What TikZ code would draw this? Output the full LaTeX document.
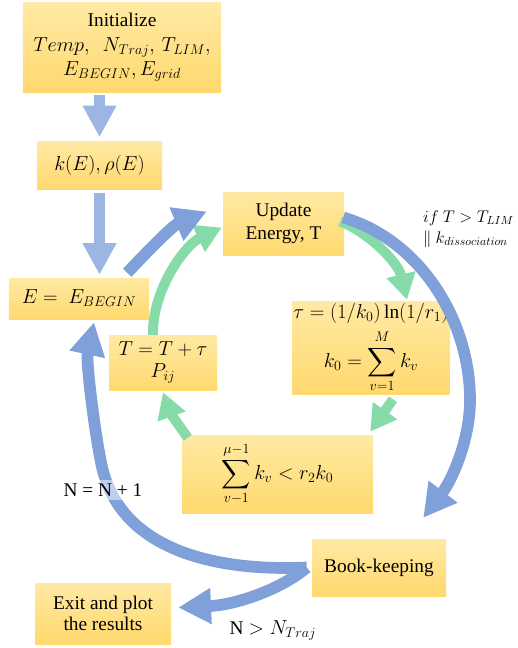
\documentclass[tikz,border=0pt]{standalone}
\usepackage{fontspec}
\setmainfont{Liberation Serif}
\usepackage{amsmath}
\usetikzlibrary{arrows.meta,calc,positioning}

\definecolor{boxtop}{RGB}{255,233,163}
\definecolor{boxbot}{RGB}{255,217,110}
\definecolor{arcblue}{RGB}{127,160,216}
\definecolor{lightblue}{RGB}{157,181,226}
\definecolor{arcgreen}{RGB}{134,219,168}

\tikzset{
  blk/.style={top color=boxtop, bottom color=boxbot, draw=none, align=center, inner sep=1pt},
  bluearr/.style={draw=arcblue, line width=10pt, -{Triangle[length=28pt,width=29pt]}},
  greenarr/.style={draw=arcgreen, line width=8.5pt, -{Triangle[length=22pt,width=24pt]}},
  downarr/.style={draw=lightblue, line width=9.5pt, -{Triangle[length=27pt,width=27pt]}},
}

\begin{document}
\begin{tikzpicture}[x=0.3mm, y=-0.3mm, font=\fontsize{16.5}{18}\selectfont]
        \useasboundingbox (0,0) rectangle (517,648);
        % Kotak-kotak
        \node[blk, minimum width=59.4mm, minimum height=26.7mm] (init) at (122,47.5) {Initialize\\[3pt] $Temp,\ \ N_{Traj},\, T_{LIM},$\\[3pt] $E_{BEGIN},E_{grid}$};
        \node[blk, minimum width=37.5mm, minimum height=14.4mm] (kE) at (99.5,165) {$k(E),\rho(E)$};
        \node[blk, minimum width=42mm, minimum height=12.3mm] (Ebeg) at (79,298.5) {$E=\ E_{BEGIN}$};
        \node[blk, minimum width=32.4mm, minimum height=16.5mm] (Tup) at (163,362.5) {$T=T+\tau$\\ $P_{ij}$};
        \node[blk, minimum width=36.3mm, minimum height=18.9mm] (upd) at (283.5,223.5) {Update\\[2pt] Energy, T};
        \node[blk, minimum width=46.8mm, minimum height=26.4mm] (tau) at (371,348) {$\tau=(1/k_0)\ln(1/r_1)$\\[5pt] $\displaystyle k_0=\sum_{v=1}^{M}k_v$};
        \node[blk, minimum width=57.3mm, minimum height=23.4mm] (sum) at (277.5,474) {$\displaystyle\sum_{v-1}^{\mu-1}k_v<r_2k_0$};
        \node[blk, minimum width=40.2mm, minimum height=17.1mm] (book) at (379,567.5) {Book-keeping};
        \node[blk, minimum width=40.8mm, minimum height=18.3mm] (exit) at (103,613.5) {Exit and plot\\ the results};
        % Panah turun
        \draw[downarr, shorten <=2pt, shorten >=3pt] (kE.north |- init.south) -- (kE.north);
        \draw[downarr, shorten <=3pt, shorten >=2.5pt] (kE.south) -- (kE.south |- Ebeg.north);
        % Siklus dalam (hijau)
        \draw[greenarr] ([shift={(-4,-2)}]upd.east) .. controls (368,232) and (398,262) .. ([shift={(36,-2)}]tau.north);
        \draw[greenarr] ([shift={(22,5)}]tau.south) -- ([shift={(-3,-3)}]sum.north east);
        \draw[greenarr] ([shift={(6,3)}]sum.north west) .. controls (182,430) and (170,412) .. ([shift={(0,2)}]Tup.south);
        \draw[greenarr] ([shift={(-10,0)}]Tup.north) .. controls (152,290) and (185,245) .. ([shift={(-1,4)}]upd.west);
        % Siklus luar (biru)
        \draw[bluearr] ([shift={(-22,-5)}]Ebeg.north east) .. controls (147,252) and (172,226) .. ([shift={(-16,-12)}]upd.west);
        \draw[bluearr] ([shift={(-1,-6)}]upd.east) .. controls (420,240) and (470,320) .. (470,400)
            .. controls (470,440) and (452,480) .. ([shift={(-23,-21)}]book.north east);
        \draw[bluearr] ([shift={(-5,0)}]book.west) .. controls (205,572) and (120,545) .. (102,467)
            .. controls (94,430) and (86,360) .. ([shift={(15,3)}]Ebeg.south);
        \draw[bluearr] ([shift={(-5,0)}]book.west) .. controls (280,590) and (235,605) .. ([shift={(7,-6)}]exit.east);
        % Label
        \node[anchor=west, align=left, font=\fontsize{14}{16}\selectfont] (cond) at (419,229) {$if\ T>T_{LIM}$\\[2pt] $\|\ k_{dissociation}$};
        \node[fill=white, fill opacity=0.5, text opacity=1] (incr) at (103,490) {N = N + 1};
        \node (stop) at (273,630) {N $>N_{Traj}$};
      \end{tikzpicture}
\end{document}
